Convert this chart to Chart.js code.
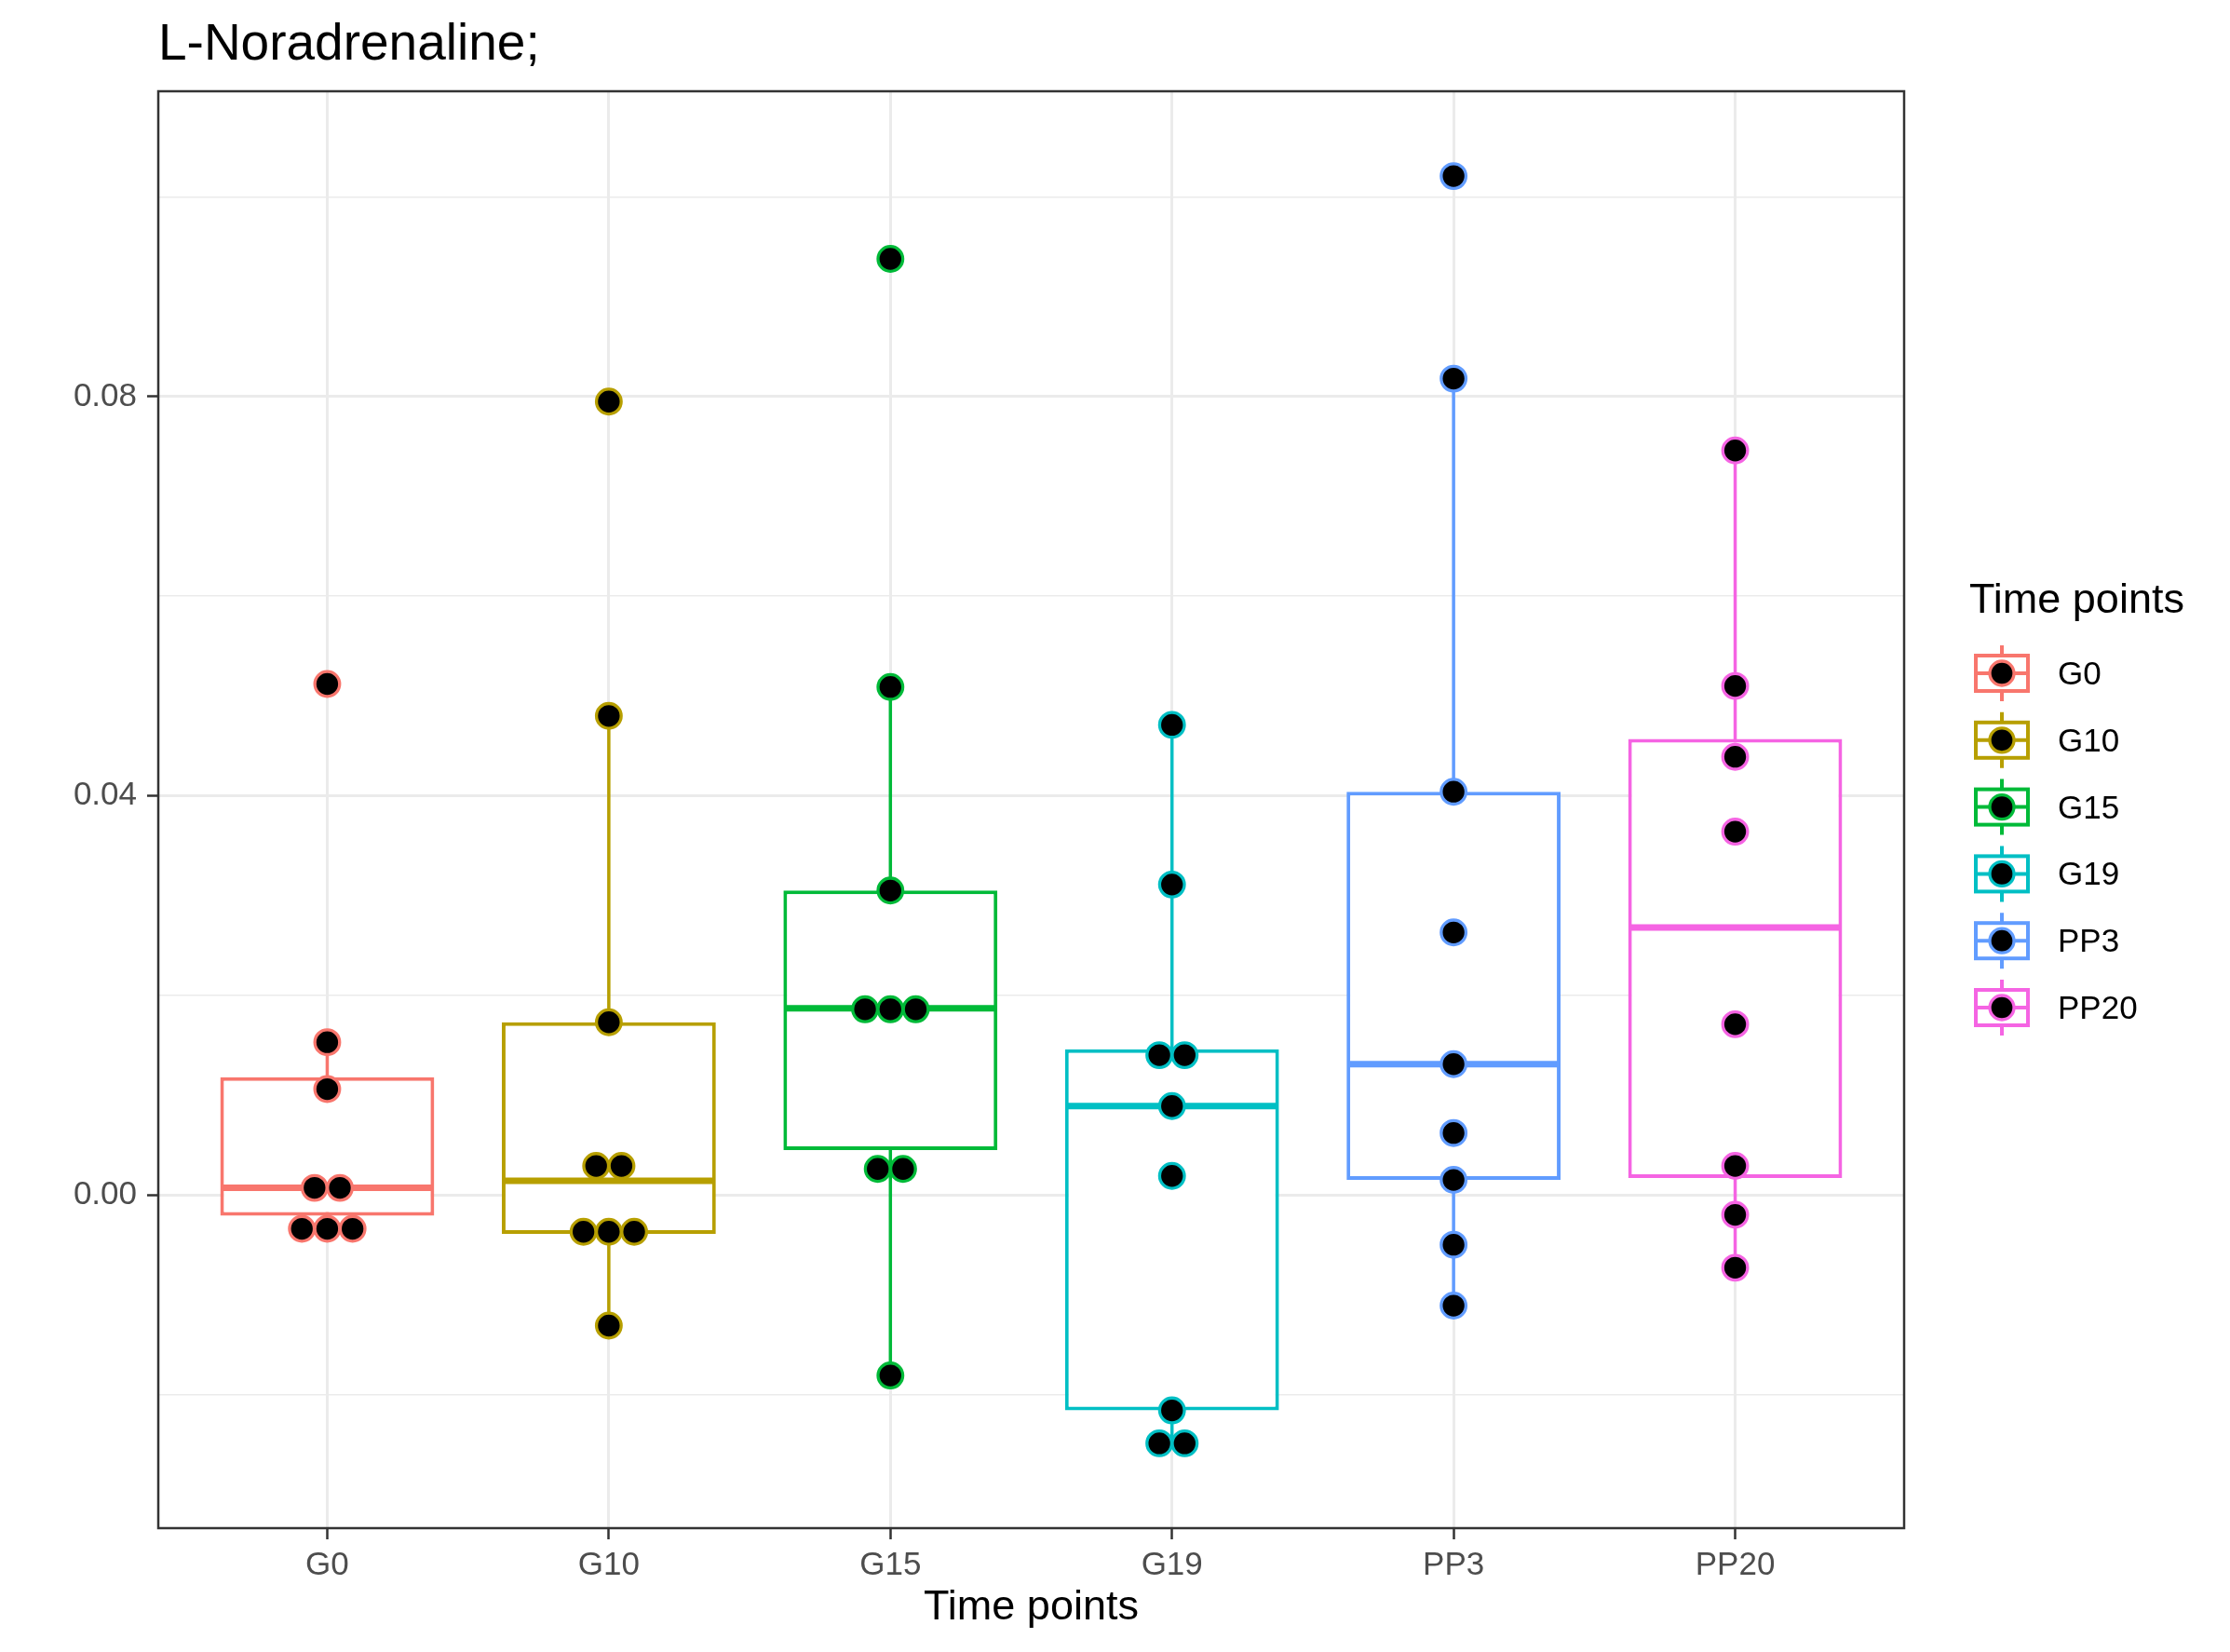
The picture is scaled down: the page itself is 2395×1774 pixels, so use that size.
<!DOCTYPE html>
<html>
<head>
<meta charset="utf-8">
<title>L-Noradrenaline</title>
<script src="https://cdn.jsdelivr.net/npm/chart.js@4.4.0/dist/chart.umd.min.js"></script>
<style>
  html, body { margin: 0; padding: 0; background: #ffffff; }
  #wrap { width: 2395px; height: 1774px; }
</style>
</head>
<body>
<div id="wrap"><canvas id="boxchart" width="2395" height="1774"></canvas></div>
<script>
const groups = ['G0', 'G10', 'G15', 'G19', 'PP3', 'PP20'];
const colours = ['#F8766D', '#B79F00', '#00BA38', '#00BFC4', '#619CFF', '#F564E3'];

// box stats
const whiskerLow  = [-0.0034, -0.0131, -0.0181, -0.0249, -0.0111, -0.0073];
const boxLow      = [-0.0021, -0.0039,  0.0045, -0.0216,  0.0015,  0.0017];
const medians     = [ 0.0007,  0.0014,  0.0187,  0.0089,  0.0131,  0.0268];
const boxHigh     = [ 0.0118,  0.0173,  0.0305,  0.0146,  0.0404,  0.0457];
const whiskerHigh = [ 0.0153,  0.0480,  0.0509,  0.0471,  0.0818,  0.0746];

// dots (binned values, equal values sit side by side)
const dotsG0   = [0.0512, 0.0153, 0.0106, 0.0007, 0.0007, -0.0034, -0.0034, -0.0034];
const dotsG10  = [0.0795, 0.0480, 0.0173, 0.0029, 0.0029, -0.0037, -0.0037, -0.0037, -0.0131];
const dotsG15  = [0.0938, 0.0509, 0.0305, 0.0186, 0.0186, 0.0186, 0.0026, 0.0026, -0.0181];
const dotsG19  = [0.0471, 0.0311, 0.0140, 0.0140, 0.0089, 0.0019, -0.0216, -0.0249, -0.0249];
const dotsPP3  = [0.1021, 0.0818, 0.0404, 0.0263, 0.0131, 0.0062, 0.0015, -0.0050, -0.0111];
const dotsPP20 = [0.0746, 0.0510, 0.0439, 0.0364, 0.0171, 0.0029, -0.0020, -0.0073];
const dots = [dotsG0, dotsG10, dotsG15, dotsG19, dotsPP3, dotsPP20];

const yMajor = [0, 0.04, 0.08];
const yMinor = [-0.02, 0.02, 0.06, 0.10];
const yMin = -0.0334;
const yMax = 0.1106;

const FONT = '"Liberation Sans", Arial, Helvetica, sans-serif';
const boxWidth = 0.75;
const dotStep = 0.09;

Chart.defaults.font.family = FONT;

function isMajor(v) {
  return yMajor.some(m => Math.abs(m - v) < 1e-9);
}

// put repeated values next to each other, centred on the group
function stackDots(vals, i) {
  const counts = {};
  vals.forEach(v => counts[v] = (counts[v] || 0) + 1);
  const seen = {};
  return vals.map(v => {
    seen[v] = (seen[v] || 0) + 1;
    const k = seen[v] - 1, n = counts[v];
    return { x: i + (k - (n - 1) / 2) * dotStep, y: v };
  });
}

const datasets = [];
groups.forEach((g, i) => {
  datasets.push({
    type: 'line', label: g + ' whisker',
    data: [{ x: i, y: whiskerLow[i] }, { x: i, y: whiskerHigh[i] }],
    borderColor: colours[i], borderWidth: 3.5, pointRadius: 0, fill: false, order: 4
  });
});
datasets.push({
  type: 'bar', label: 'box',
  data: groups.map((g, i) => ({ x: i, y: [boxLow[i], boxHigh[i]] })),
  backgroundColor: '#ffffff', borderColor: colours, borderWidth: 4,
  borderSkipped: false, barPercentage: boxWidth + 0.01, categoryPercentage: 1, order: 3
});
groups.forEach((g, i) => {
  datasets.push({
    type: 'line', label: g + ' median',
    data: [{ x: i - boxWidth / 2, y: medians[i] }, { x: i + boxWidth / 2, y: medians[i] }],
    borderColor: colours[i], borderWidth: 7, pointRadius: 0, fill: false, order: 2
  });
});
groups.forEach((g, i) => {
  datasets.push({
    type: 'scatter', label: g,
    data: stackDots(dots[i], i),
    backgroundColor: '#000000', borderColor: colours[i], borderWidth: 3.3,
    pointRadius: 13.3, order: 1
  });
});

const panelBorder = {
  id: 'panelBorder',
  afterDatasetsDraw(chart) {
    const { ctx, chartArea: a } = chart;
    ctx.save();
    ctx.strokeStyle = '#333333';
    ctx.lineWidth = 2.5;
    ctx.strokeRect(a.left, a.top, a.right - a.left, a.bottom - a.top);
    ctx.restore();
  }
};

const sideLegend = {
  id: 'sideLegend',
  afterDraw(chart) {
    const ctx = chart.ctx;
    const x0 = chart.chartArea.right + 70;
    ctx.save();
    ctx.fillStyle = '#000000';
    ctx.textBaseline = 'alphabetic';
    ctx.font = '45px ' + FONT;
    ctx.fillText('Time points', x0, 658);
    ctx.font = '35px ' + FONT;
    groups.forEach((g, i) => {
      const cx = x0 + 35, cy = 723 + i * 71.8;
      ctx.strokeStyle = colours[i];
      ctx.lineWidth = 4;
      ctx.beginPath();
      ctx.moveTo(cx, cy - 30); ctx.lineTo(cx, cy - 19);
      ctx.moveTo(cx, cy + 19); ctx.lineTo(cx, cy + 30);
      ctx.moveTo(cx - 28, cy); ctx.lineTo(cx + 28, cy);
      ctx.stroke();
      ctx.strokeRect(cx - 28, cy - 19, 56, 38);
      ctx.beginPath();
      ctx.arc(cx, cy, 13, 0, Math.PI * 2);
      ctx.fillStyle = '#000000';
      ctx.fill();
      ctx.lineWidth = 3.3;
      ctx.stroke();
      ctx.fillText(g, x0 + 95, cy + 12);
    });
    ctx.restore();
  }
};

const ctx = document.getElementById('boxchart').getContext('2d');
const myChart = new Chart(ctx, {
  type: 'scatter',
  data: { datasets: datasets },
  options: {
    responsive: false,
    devicePixelRatio: 1,
    animation: false,
    events: [],
    layout: { padding: { left: 0, right: 350, top: 0, bottom: 0 } },
    plugins: {
      legend: { display: false },
      tooltip: { enabled: false },
      title: {
        display: true, text: 'L-Noradrenaline;', align: 'start', fullSize: false,
        color: '#000000', font: { size: 55, weight: 'normal', lineHeight: 1.2 },
        padding: { top: 16, bottom: 16 }
      }
    },
    scales: {
      x: {
        type: 'linear', min: -0.6, max: groups.length - 0.4, offset: false,
        afterBuildTicks: s => { s.ticks = groups.map((g, i) => ({ value: i })); },
        afterFit: s => { s.height = 133; },
        ticks: {
          callback: v => groups[v] ?? '', autoSkip: false, maxRotation: 0,
          color: '#4D4D4D', font: { size: 35 }, padding: 7
        },
        grid: { color: '#EBEBEB', lineWidth: 3, offset: false, tickLength: 12, tickColor: '#333333', tickWidth: 2.5 },
        border: { display: false },
        title: {
          display: true, text: 'Time points', color: '#000000',
          font: { size: 45 }, padding: { top: 0, bottom: 20 }
        }
      },
      y: {
        min: yMin, max: yMax,
        afterBuildTicks: s => {
          s.ticks = yMinor.concat(yMajor).sort((a, b) => a - b).map(v => ({ value: v }));
        },
        afterFit: s => { s.width = 170; },
        ticks: {
          callback: v => isMajor(v) ? v.toFixed(2) : '', autoSkip: false,
          color: '#4D4D4D', font: { size: 35 }, padding: 11
        },
        grid: {
          color: '#EBEBEB',
          lineWidth: c => isMajor(c.tick.value) ? 3 : 1.5,
          tickLength: 12,
          tickColor: c => isMajor(c.tick.value) ? '#333333' : 'rgba(0,0,0,0)',
          tickWidth: 2.5
        },
        border: { display: false }
      }
    }
  },
  plugins: [panelBorder, sideLegend]
});
</script>
</body>
</html>
